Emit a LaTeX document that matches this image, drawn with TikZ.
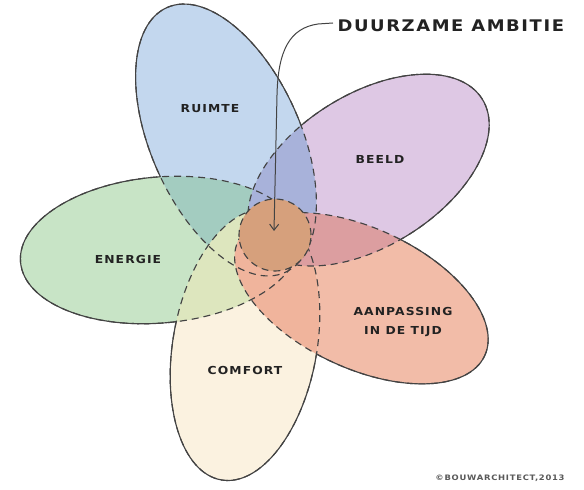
\documentclass[tikz,border=0pt]{standalone}
\usepackage{fontspec}
\newfontfamily\hand[FakeStretch=1.12,LetterSpace=10]{DejaVu Sans Bold}
\usetikzlibrary{arrows.meta}
\definecolor{cblue}{HTML}{C3D7EE}
\definecolor{cpurple}{HTML}{DEC8E4}
\definecolor{cred}{HTML}{F2BCA8}
\definecolor{ccream}{HTML}{FBF2E0}
\definecolor{cgreen}{HTML}{C8E4C6}
\definecolor{cBG}{HTML}{A3CCC0}
\definecolor{cBP}{HTML}{A8B2DA}
\definecolor{cPR}{HTML}{DC9EA0}
\definecolor{cRC}{HTML}{F0B49C}
\definecolor{cGC}{HTML}{DDE6BE}
\definecolor{corange}{HTML}{D6A07C}
\definecolor{cline}{HTML}{434343}
\definecolor{ctext}{HTML}{222222}
\def\pB{(226,350) ellipse [x radius=145, y radius=75, rotate=-66]}
\def\pP{(368.6,319.9) ellipse [x radius=134, y radius=76, rotate=32]}
\def\pR{(361.4,191.7) ellipse [x radius=136, y radius=70, rotate=-25]}
\def\pC{(245,145) ellipse [x radius=137, y radius=72, rotate=80]}
\def\pG{(160,240) ellipse [x radius=140, y radius=73, rotate=5]}
\def\bigR{(-20,-20) rectangle (610,510)}
\begin{document}
\begin{tikzpicture}[x=1pt,y=1pt,line width=1.15pt,
  outline/.style={draw=cline},
  hidden/.style={draw=cline,dash pattern=on 7pt off 5pt},
  label/.style={text=ctext,font=\hand\fontsize{11}{19.5}\selectfont,align=center,inner sep=0pt}]
\useasboundingbox (0,0) rectangle (584,490);
\fill[white] (0,0) rectangle (584,490);
% single petals
\fill[cred] \pR;
\fill[ccream] \pC;
\fill[cpurple] \pP;
\fill[cgreen] \pG;
\fill[cblue] \pB;
% pairwise overlaps of neighbouring petals
\begin{scope}\clip \pB; \fill[cBG] \pG; \end{scope}
\begin{scope}\clip \pB; \fill[cBP] \pP; \end{scope}
\begin{scope}\clip \pG; \fill[cGC] \pC; \end{scope}
\begin{scope}\clip \pR; \fill[cRC] \pC; \end{scope}
\begin{scope}\clip \pP; \fill[cPR] \pR; \end{scope}
% hidden (inner) outlines
\path[hidden] \pB;
\path[hidden] \pP;
\path[hidden] \pR;
\path[hidden] \pC;
\path[hidden] \pG;
% solid outer outlines
\begin{scope}[even odd rule]
  \clip \bigR \pP; \clip \bigR \pR; \clip \bigR \pC; \clip \bigR \pG;
  \path[outline] \pB;
\end{scope}
\begin{scope}[even odd rule]
  \clip \bigR \pB; \clip \bigR \pR; \clip \bigR \pC; \clip \bigR \pG;
  \path[outline] \pP;
\end{scope}
\begin{scope}[even odd rule]
  \clip \bigR \pB; \clip \bigR \pP; \clip \bigR \pC; \clip \bigR \pG;
  \path[outline] \pR;
\end{scope}
\begin{scope}[even odd rule]
  \clip \bigR \pB; \clip \bigR \pP; \clip \bigR \pR; \clip \bigR \pG;
  \path[outline] \pC;
\end{scope}
\begin{scope}[even odd rule]
  \clip \bigR \pB; \clip \bigR \pP; \clip \bigR \pR; \clip \bigR \pC;
  \path[outline] \pG;
\end{scope}
% centre
\fill[corange] (275,255) circle [radius=36];
\draw[hidden] (275,255) circle [radius=36];
% labels
\node[label] (ruimte) at (210,381) {RUIMTE};
\node[label] (beeld) at (380,331) {BEELD};
\node[label] (aanpassing) at (403,168) {AANPASSING\\IN DE TIJD};
\node[label] (comfort) at (245,120) {COMFORT};
\node[label] (energie) at (128,230.5) {ENERGIE};
\node[text=ctext,font=\hand\fontsize{16}{20}\selectfont,anchor=west,inner sep=0pt] (ambitie) at (337,464.5) {DUURZAME AMBITIE};
\node[text=ctext!75,font=\hand\fontsize{7.5}{10}\selectfont,inner sep=0pt] (copy) at (500,12) {©BOUWARCHITECT,2013};
% arrow
\coordinate (astart) at (333,467);
\coordinate (aend) at (274,259);
\draw[cline,line width=1pt,-{Straight Barb[length=6pt,width=9pt]}] (astart) -- (318,466) .. controls (290,462) and (278,440) .. (277,395) -- (aend);
\end{tikzpicture}
\end{document}
